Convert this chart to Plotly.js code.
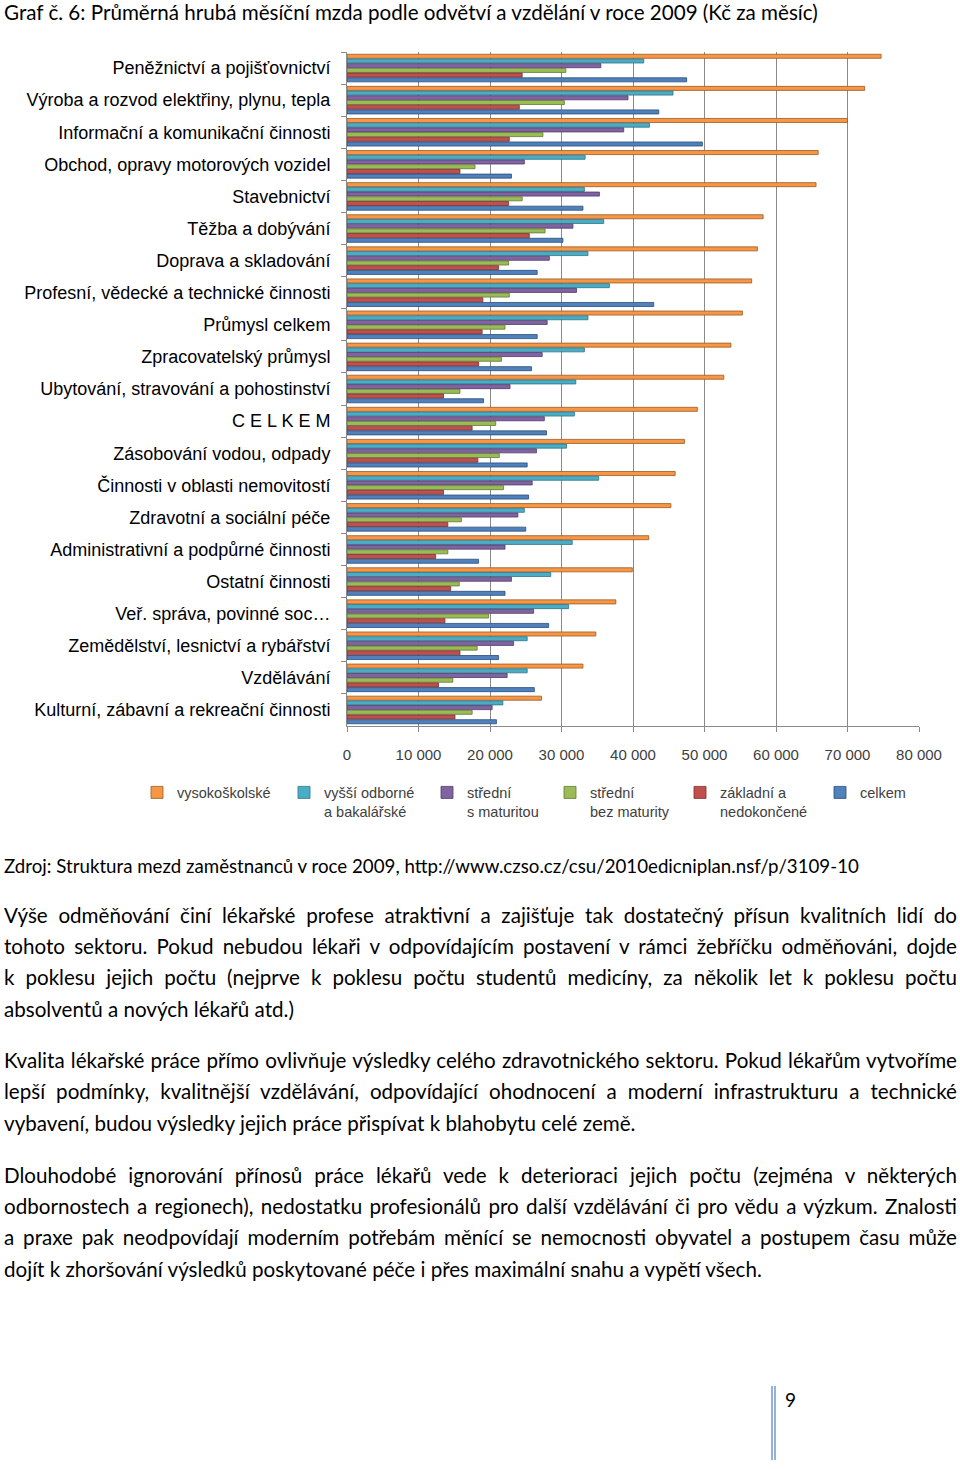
<!DOCTYPE html>
<html>
<head>
<meta charset="utf-8">
<script src="https://cdn.plot.ly/plotly-3.0.1.min.js"></script>
<style>
  html,body{margin:0;padding:0;background:#fff;}
  body{width:960px;height:1469px;position:relative;overflow:hidden;}
  #chart{position:absolute;left:0;top:0;width:960px;height:840px;}
  .ln{position:absolute;left:4px;width:953px;font-family:Lato,"Open Sans",sans-serif;font-size:20.6px;line-height:30px;height:30px;color:#000;white-space:nowrap;overflow:hidden;}
  .j{text-align:justify;text-align-last:justify;white-space:normal;}
  #src{font-size:18.7px;}
  #pgline{position:absolute;left:771px;top:1386px;width:0;height:74px;border-left:5px double #95B3D7;}
  #pgnum{position:absolute;left:785px;top:1388px;font-family:Lato,sans-serif;font-size:19px;color:#000;}
</style>
</head>
<body>
<div id="chart"></div>

<div class="ln" id="src" style="top:851px">Zdroj: Struktura mezd zaměstnanců v roce 2009, http://www.czso.cz/csu/2010edicniplan.nsf/p/3109-10</div>

<div class="ln j" style="top:900px">Výše odměňování činí lékařské profese atraktivní a zajišťuje tak dostatečný přísun kvalitních lidí do</div>
<div class="ln j" style="top:931px">tohoto sektoru. Pokud nebudou lékaři v odpovídajícím postavení v rámci žebříčku odměňováni, dojde</div>
<div class="ln j" style="top:962px">k poklesu jejich počtu (nejprve k poklesu počtu studentů medicíny, za několik let k poklesu počtu</div>
<div class="ln" style="top:994px">absolventů a nových lékařů atd.)</div>

<div class="ln j" style="top:1045px">Kvalita lékařské práce přímo ovlivňuje výsledky celého zdravotnického sektoru. Pokud lékařům vytvoříme</div>
<div class="ln j" style="top:1076px">lepší podmínky, kvalitnější vzdělávání, odpovídající ohodnocení a moderní infrastrukturu a technické</div>
<div class="ln" style="top:1108px">vybavení, budou výsledky jejich práce přispívat k blahobytu celé země.</div>

<div class="ln j" style="top:1160px">Dlouhodobé ignorování přínosů práce lékařů vede k deterioraci jejich počtu (zejména v některých</div>
<div class="ln j" style="top:1191px">odbornostech a regionech), nedostatku profesionálů pro další vzdělávání či pro vědu a výzkum. Znalosti</div>
<div class="ln j" style="top:1222px">a praxe pak neodpovídají moderním potřebám měnící se nemocnosti obyvatel a postupem času může</div>
<div class="ln" style="top:1254px">dojít k zhoršování výsledků poskytované péče i přes maximální snahu a vypětí všech.</div>

<div id="pgline"></div>
<div id="pgnum">9</div>

<script>
// ---- data ----
var categories = [
  "Peněžnictví a pojišťovnictví",
  "Výroba a rozvod elektřiny, plynu, tepla",
  "Informační a komunikační činnosti",
  "Obchod, opravy motorových vozidel",
  "Stavebnictví",
  "Těžba a dobývání",
  "Doprava a skladování",
  "Profesní, vědecké a technické činnosti",
  "Průmysl celkem",
  "Zpracovatelský průmysl",
  "Ubytování, stravování a pohostinství",
  "C E L K E M",
  "Zásobování vodou, odpady",
  "Činnosti v oblasti nemovitostí",
  "Zdravotní a sociální péče",
  "Administrativní a podpůrné činnosti",
  "Ostatní činnosti",
  "Veř. správa, povinné soc…",
  "Zemědělství, lesnictví a rybářství",
  "Vzdělávání",
  "Kulturní, zábavní a rekreační činnosti"
];
var seriesNames = ["vysokoškolské", "vyšší odborné<br>a bakalářské", "střední<br>s maturitou", "střední<br>bez maturity", "základní a<br>nedokončené", "celkem"];
var vysokoskolske = [74700, 72400, 70000, 65900, 65600, 58200, 57400, 56600, 55300, 53700, 52700, 49000, 47200, 45900, 45300, 42200, 39900, 37600, 34800, 33000, 27200];
var vyssiOdborne  = [41500, 45600, 42300, 33300, 33200, 35900, 33700, 36700, 33700, 33200, 32000, 31800, 30700, 35200, 24800, 31500, 28500, 31000, 25200, 25200, 21800];
var stredniMat    = [35500, 39300, 38700, 24800, 35300, 31600, 28300, 32100, 28000, 27300, 22800, 27600, 26500, 25900, 23900, 22100, 23000, 26100, 23300, 22400, 20300];
var stredniBez    = [30600, 30400, 27400, 17900, 24500, 27700, 22600, 22700, 22100, 21600, 15800, 20800, 21300, 21900, 16000, 14100, 15700, 19800, 18200, 14800, 17500];
var zakladni      = [24500, 24100, 22700, 15800, 22600, 25500, 21200, 19000, 18900, 18400, 13500, 17500, 18300, 13500, 14100, 12400, 14500, 13700, 15800, 12800, 15100];
var celkem        = [47500, 43600, 49700, 23000, 33000, 30200, 26600, 42900, 26600, 25800, 19100, 27900, 25200, 25400, 25000, 18400, 22100, 28200, 21200, 26200, 20900];
var tickValues = [0, 10000, 20000, 30000, 40000, 50000, 60000, 70000, 80000];
var tickLabels = ["0", "10 000", "20 000", "30 000", "40 000", "50 000", "60 000", "70 000", "80 000"];

// ---- styles ----
var fills = ["#F79646", "#4BACC6", "#8064A2", "#9BBB59", "#C0504D", "#4F81BD"];
var edges = ["#9A5A22", "#2F7487", "#4F3B6A", "#5F7A2E", "#7E2E2C", "#2C4D78"];
var legendTextX = [177, 324, 467, 590, 720, 860];

var W = 960, H = 840;
var mL = 347, mR = 41, mT = 52, mB = 107;
var plotW = W - mL - mR, plotH = H - mT - mB;

var allSeries = [vysokoskolske, vyssiOdborne, stredniMat, stredniBez, zakladni, celkem];
var traces = allSeries.map(function (vals, i) {
  return {
    type: "bar",
    orientation: "h",
    name: seriesNames[i],
    x: vals,
    y: categories,
    marker: { color: fills[i], line: { color: edges[i], width: 0.8 } },
    legend: i === 0 ? "legend" : "legend" + (i + 1),
    hoverinfo: "x+name"
  };
});

var layout = {
  width: W, height: H,
  margin: { l: mL, r: mR, t: mT, b: mB, pad: 0 },
  paper_bgcolor: "#fff", plot_bgcolor: "#fff",
  barmode: "group",
  bargap: 0.12,
  bargroupgap: 0.14,
  font: { family: "Liberation Sans, Arial, sans-serif", size: 15, color: "#000" },
  title: {
    text: "Graf č. 6: Průměrná hrubá měsíční mzda podle odvětví a vzdělání v roce 2009 (Kč za měsíc)",
    x: 4 / W, xref: "container", xanchor: "left",
    y: 1 - 13 / H, yref: "container", yanchor: "middle",
    font: { family: "Lato, Open Sans, sans-serif", size: 20.6, color: "#000" }
  },
  xaxis: {
    range: [0, 80000],
    tickvals: tickValues,
    ticktext: tickLabels,
    showgrid: true, gridcolor: "#8a8a8a", gridwidth: 1,
    showline: true, linecolor: "#8a8a8a", linewidth: 1,
    ticks: "outside", ticklen: 5, tickcolor: "#8a8a8a",
    ticklabelstandoff: 10,
    zeroline: false,
    tickfont: { family: "Liberation Sans, Arial, sans-serif", size: 15, color: "#404040" },
    fixedrange: true
  },
  yaxis: {
    type: "category",
    autorange: "reversed",
    showgrid: false,
    showline: true, linecolor: "#8a8a8a", linewidth: 1,
    ticks: "outside", ticklen: 5, tickcolor: "#8a8a8a",
    tickson: "boundaries",
    ticklabelstandoff: 12,
    tickfont: { family: "Liberation Sans, Arial, sans-serif", size: 18, color: "#000" },
    fixedrange: true
  },
  showlegend: true
};

// one single-entry legend per series, each placed where the reference shows it
for (var i = 0; i < 6; i++) {
  var key = i === 0 ? "legend" : "legend" + (i + 1);
  layout[key] = {
    x: (legendTextX[i] - 40 - mL) / plotW,
    xanchor: "left",
    y: (H - mB - 784) / plotH,
    yanchor: "top",
    orientation: "h",
    valign: "top",
    bgcolor: "rgba(0,0,0,0)",
    borderwidth: 0,
    font: { family: "Liberation Sans, Arial, sans-serif", size: 14.5, color: "#404040" }
  };
}

Plotly.newPlot("chart", traces, layout, { displayModeBar: false, staticPlot: true });

// safety: keep each justified line on a single line
document.querySelectorAll(".ln.j").forEach(function (el) {
  var fs = parseFloat(getComputedStyle(el).fontSize);
  el.style.height = "auto";
  while (el.scrollHeight > 34 && fs > 12) { fs -= 0.2; el.style.fontSize = fs + "px"; }
  el.style.height = "30px";
});
</script>
</body>
</html>
